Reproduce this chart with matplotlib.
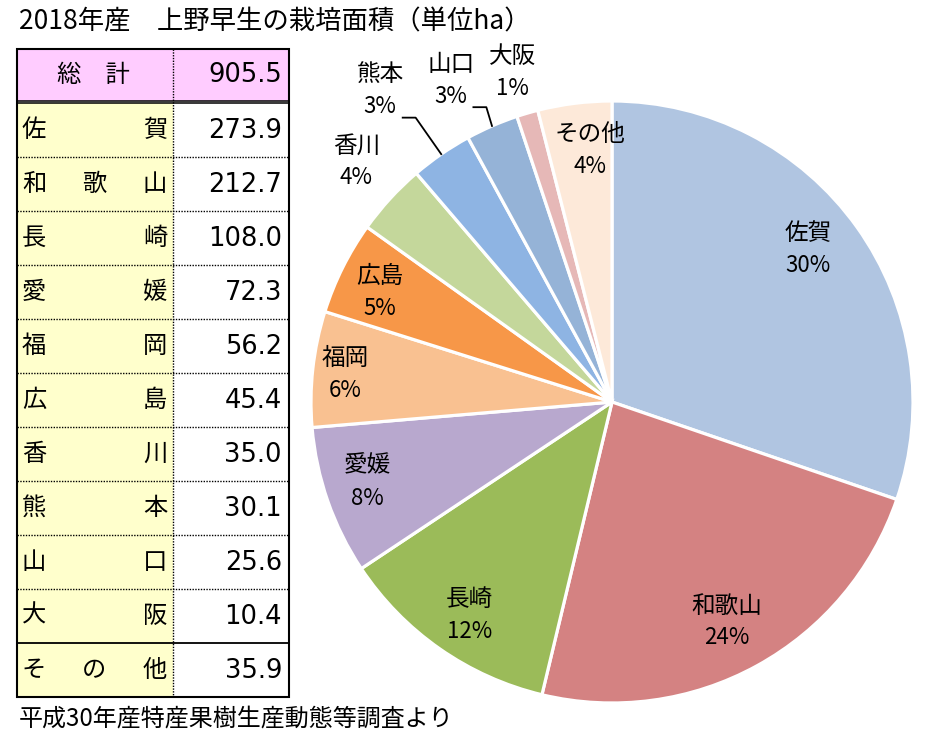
import matplotlib
matplotlib.use("Agg")
import matplotlib.pyplot as plt
import numpy as np

plt.rcParams['font.family'] = ['Noto Sans CJK JP', 'DejaVu Sans']

# ---------------- data ----------------
title = "2018年産　上野早生の栽培面積（単位ha）"
footer = "平成30年産特産果樹生産動態等調査より"
total_label = "総　計"
total_value = 905.5
regions = ["佐賀", "和歌山", "長崎", "愛媛", "福岡", "広島", "香川", "熊本", "山口", "大阪", "その他"]
areas = [273.9, 212.7, 108.0, 72.3, 56.2, 45.4, 35.0, 30.1, 25.6, 10.4, 35.9]
percent_labels = ["30%", "24%", "12%", "8%", "6%", "5%", "4%", "3%", "3%", "1%", "4%"]

# ---------------- styles ----------------
colors = ["#B0C5E1", "#D48282", "#9BBB59", "#B8A8CE", "#F9C191", "#F79748",
          "#C4D79B", "#8EB4E3", "#95B3D7", "#E6B8B7", "#FDE9D9"]
# label placement (radius in pie units, angle offset in degrees)
label_place = [(0.824, 2.3), (0.825, -1.2), (0.851, 1.2), (0.856, -1.1), (0.89, 0.5),
               (0.853, 1.2), (1.165, -0.7), (1.29, 2.1), (1.196, 3.1), (1.144, 0.4), (0.84, -2.1)]
leader = [False, False, False, False, False, False, False, True, True, False, False]

W, H = 925, 742
fig = plt.figure(figsize=(W / 100, H / 100), dpi=100)

# overlay axes in pixel coordinates for table / titles
axt = fig.add_axes([0, 0, 1, 1])
axt.set_xlim(0, W)
axt.set_ylim(H, 0)
axt.axis('off')

axt.text(19, 22, title, fontsize=19, va='center', ha='left', color='black')
axt.text(19, 719, footer, fontsize=17.3, va='center', ha='left', color='black')

# table geometry
x0, xm, x1 = 16.5, 172.5, 288.5
y_top, y_hbot = 48.5, 100.5
row_top = 103.0
row_h = 54.0
n = len(regions)
y_bot = row_top + n * row_h

# fills
axt.add_patch(plt.Rectangle((x0, y_top), x1 - x0, y_hbot - y_top, facecolor="#FFCCFF", edgecolor='none'))
axt.add_patch(plt.Rectangle((x0, row_top), xm - x0, y_bot - row_top, facecolor="#FFFFCC", edgecolor='none'))

num_font = dict(family=['DejaVu Sans'], fontsize=18.5)

# header text
axt.text(93, (y_top + y_hbot) / 2 + 1, total_label, fontsize=17.5, ha='center', va='center')
axt.text(282, (y_top + y_hbot) / 2 + 1, f"{total_value:.1f}", ha='right', va='center', **num_font)

# rows
for i, (name, val) in enumerate(zip(regions, areas)):
    yc = row_top + (i + 0.5) * row_h
    chars = list(name)
    if len(chars) == 2:
        xs = [34, 155]
    else:
        xs = [34, 94.5, 155]
    for ch, xx in zip(chars, xs):
        axt.text(xx, yc, ch, fontsize=17.5, ha='center', va='center')
    axt.text(282, yc + 1, f"{val:.1f}", ha='right', va='center', **num_font)
    if 0 < i < n - 1:
        axt.plot([x0, x1], [row_top + i * row_h] * 2, color='black', lw=1.0, ls=(0, (1, 1)))

# solid line above last row
axt.plot([x0, x1], [row_top + (n - 1) * row_h] * 2, color='black', lw=1.3)
# double line under header
axt.plot([x0, x1], [y_hbot, y_hbot], color='black', lw=1.1)
axt.plot([x0, x1], [row_top, row_top], color='black', lw=1.1)
# vertical dotted divider
axt.plot([xm, xm], [y_top, y_bot], color='black', lw=1.0, ls=(0, (1, 1)))
# outer border
axt.add_patch(plt.Rectangle((x0, y_top), x1 - x0, y_bot - y_top, facecolor='none', edgecolor='black', lw=1.5))

# ---------------- pie ----------------
cx, cy, R = 612, 402, 301
axp = fig.add_axes([(cx - R) / W, (H - cy - R) / H, 2 * R / W, 2 * R / H])
wedges, _ = axp.pie(areas, startangle=90, counterclock=False, colors=colors,
                    wedgeprops=dict(edgecolor='white', linewidth=2.3))
axp.set_xlim(-1, 1)
axp.set_ylim(-1, 1)
axp.set_aspect('equal')
axp.axis('off')

for w, name, pct, (r, da), ld in zip(wedges, regions, percent_labels, label_place, leader):
    mid = (w.theta1 + w.theta2) / 2
    ang = np.deg2rad(mid + da)
    lx, ly = r * np.cos(ang), r * np.sin(ang)
    axp.annotate(name, (lx, ly), xytext=(0, 11.5), textcoords='offset points',
                 ha='center', va='center', fontsize=17, annotation_clip=False)
    axp.annotate(pct, (lx, ly), xytext=(0, -11.5), textcoords='offset points',
                 ha='center', va='center', fontsize=16, annotation_clip=False)
    if ld:
        m = np.deg2rad(mid)
        sx, sy = np.cos(m) * 1.0, np.sin(m) * 1.0
        axp.plot([sx, lx + 0.118, lx + 0.075], [sy, ly - 0.09, ly - 0.09],
                 color='black', lw=1.3, clip_on=False)

fig.savefig("out.png", dpi=100)
